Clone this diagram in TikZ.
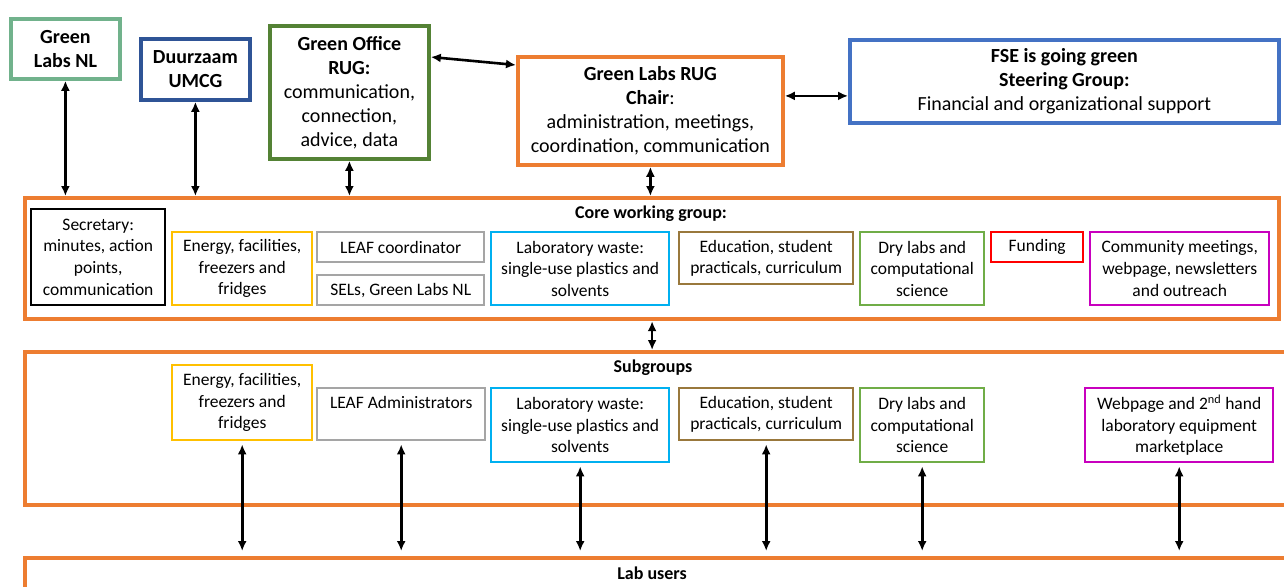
\documentclass[tikz,border=0pt]{standalone}
\usepackage{fontspec}
\setmainfont{Carlito}
\usepackage{xcolor}
\usepackage{tikz}
\usetikzlibrary{arrows.meta,positioning}
\definecolor{cGlnl}{RGB}{113,178,140}
\definecolor{cUmcg}{RGB}{47,84,150}
\definecolor{cOffice}{RGB}{84,130,53}
\definecolor{cOrange}{RGB}{237,125,49}
\definecolor{cFse}{RGB}{68,114,196}
\definecolor{cYellow}{RGB}{255,192,0}
\definecolor{cGrey}{RGB}{165,165,165}
\definecolor{cWaste}{RGB}{0,176,240}
\definecolor{cEdu}{RGB}{153,120,60}
\definecolor{cDry}{RGB}{112,173,71}
\definecolor{cFund}{RGB}{255,0,0}
\definecolor{cComm}{RGB}{200,0,190}
\newcommand\bigtxt{\fontsize{20}{24}\selectfont}
\newcommand\smalltxt{\fontsize{17.5}{21.7}\selectfont}

\begin{document}
\begin{tikzpicture}[x=1pt,y=-1pt,
  topbox/.style={draw,line width=3.8pt,align=center,anchor=north west,font=\bigtxt,inner sep=0pt},
  grpbox/.style={draw=cOrange,line width=4.2pt,anchor=north west,inner sep=0pt},
  subbox/.style={draw,line width=2.4pt,align=center,anchor=north west,font=\smalltxt,inner sep=0pt},
  grptitle/.style={font=\fontsize{18}{22}\selectfont\bfseries},
  dbl/.style={<->,>={Latex[length=10pt,width=9pt]},line width=2.6pt}]
  \path[use as bounding box,clip] (0,0) rectangle (1284,586);
  % partners on top
  \node[topbox,draw=cGlnl,minimum width=109pt,minimum height=60pt] (glnl) at (9,17) {\textbf{Green}\\\textbf{Labs NL}};
  \node[topbox,draw=cUmcg,minimum width=109pt,minimum height=61pt] (umcg) at (139,37) {\textbf{Duurzaam}\\\textbf{UMCG}};
  \node[topbox,draw=cOffice,minimum width=159pt,minimum height=133pt] (office) at (268,24) {\textbf{Green Office}\\\textbf{RUG:}\\communication,\\connection,\\advice, data};
  \node[topbox,draw=cOrange,minimum width=265pt,minimum height=108pt] (chair) at (516,55) {\textbf{Green Labs RUG}\\\textbf{Chair}:\\administration, meetings,\\coordination, communication};
  \node[topbox,draw=cFse,minimum width=429pt,minimum height=83pt] (fse) at (848,38) {\textbf{FSE is going green}\\\textbf{Steering Group:}\\Financial and organizational support};

  % core working group
  \node[grpbox,minimum width=1254pt,minimum height=121pt] (core) at (23,196) {};
  \node[grptitle] (coretitle) at (651,214) {Core working group:};
  \node[subbox,draw=black,minimum width=134pt,minimum height=96pt] (secr) at (30,208) {Secretary:\\minutes, action\\points,\\communication};
  \node[subbox,draw=cYellow,minimum width=140pt,minimum height=73pt] (energyc) at (171,231) {Energy, facilities,\\freezers and\\fridges};
  \node[subbox,draw=cGrey,minimum width=167pt,minimum height=30pt] (leafc) at (316,231) {LEAF coordinator};
  \node[subbox,draw=cGrey,minimum width=167pt,minimum height=30pt] (sels) at (316,274) {SELs, Green Labs NL};
  \node[subbox,draw=cWaste,minimum width=178pt,minimum height=73pt] (wastec) at (490,231) {Laboratory waste:\\single-use plastics and\\solvents};
  \node[subbox,draw=cEdu,minimum width=174pt,minimum height=52pt] (educ) at (678,231) {Education, student\\practicals, curriculum};
  \node[subbox,draw=cDry,minimum width=124pt,minimum height=73pt] (dryc) at (859,231) {Dry labs and\\computational\\science};
  \node[subbox,draw=cFund,minimum width=92pt,minimum height=30pt] (fund) at (990,231) {Funding};
  \node[subbox,draw=cComm,minimum width=179pt,minimum height=73pt] (comm) at (1089,231) {Community meetings,\\webpage, newsletters\\and outreach};

  % subgroups
  \node[grpbox,minimum width=1300pt,minimum height=153pt] (subg) at (23,350) {};
  \node[grptitle] (subtitle) at (653,368) {Subgroups};
  \node[subbox,draw=cYellow,minimum width=140pt,minimum height=75pt] (energys) at (171,364) {Energy, facilities,\\freezers and\\fridges};
  \node[subbox,draw=cGrey,minimum width=168pt,minimum height=52pt,text height=20pt,text depth=32pt] (leafa) at (316,387) {LEAF Administrators};
  \node[subbox,draw=cWaste,minimum width=178pt,minimum height=74pt] (wastes) at (490,387) {Laboratory waste:\\single-use plastics and\\solvents};
  \node[subbox,draw=cEdu,minimum width=174pt,minimum height=52pt] (edus) at (678,387) {Education, student\\practicals, curriculum};
  \node[subbox,draw=cDry,minimum width=124pt,minimum height=74pt] (drys) at (859,387) {Dry labs and\\computational\\science};
  \node[subbox,draw=cComm,minimum width=188pt,minimum height=74pt] (webs) at (1084,387) {Webpage and 2\textsuperscript{nd} hand\\laboratory equipment\\marketplace};

  % lab users
  \node[grpbox,minimum width=1300pt,minimum height=100pt] (users) at (23,556) {};
  \node[grptitle] (usertitle) at (652,573) {Lab users};

  % connectors
  \draw[dbl] (glnl.south) -- (glnl.south |- core.north);
  \draw[dbl] (umcg.south) -- (umcg.south |- core.north);
  \draw[dbl] (office.south) -- (office.south |- core.north);
  \draw[dbl] (chair.south) -- (chair.south |- core.north);
  \draw[dbl] ([yshift=-33pt]office.north east) -- ([yshift=-10pt]chair.north west);
  \draw[dbl] ([yshift=15pt]chair.east) -- ([yshift=15pt]chair.east -| fse.west);
  \draw[dbl] (core.south) -- (core.south |- subg.north);
  \foreach \s in {energys,leafa,wastes,edus,drys,webs}
    \draw[dbl,shorten <=3pt,shorten >=5pt] (\s.south) -- (\s.south |- users.north);
\end{tikzpicture}
\end{document}
